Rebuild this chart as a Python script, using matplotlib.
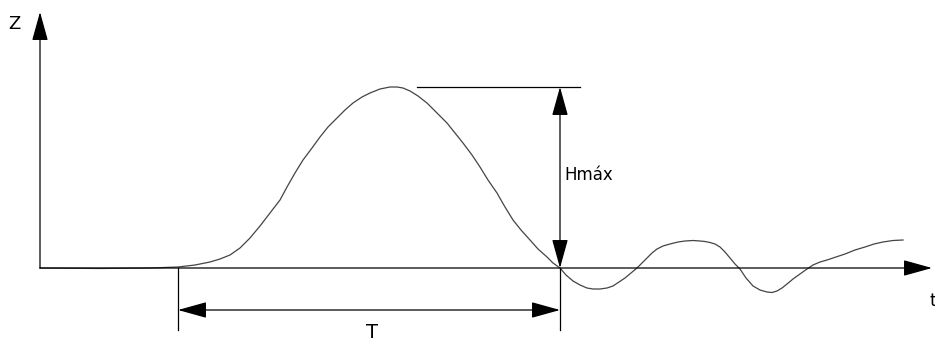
import matplotlib.pyplot as plt

# Wave profile (t along the axis, z above the still level)
t = [40, 100, 150, 178, 195, 210, 220, 230, 240, 250, 260, 270, 280, 287, 295,
     303, 312, 320, 328, 337, 345, 353, 362, 370, 380, 390, 397, 403, 410, 418,
     427, 437, 447, 455, 463, 472, 480, 488, 497, 505, 513, 521, 530, 538, 547,
     553, 560, 566, 573, 580, 587, 593, 600, 607, 613, 619, 625, 631, 637, 642,
     647, 652, 657, 663, 670, 678, 685, 693, 700, 705, 710, 715, 720, 725, 730,
     735, 740, 746, 753, 760, 767, 772, 777, 782, 787, 793, 800, 807, 813, 820,
     827, 836, 845, 855, 865, 874, 883, 893, 903]
z = [0, -0.5, 0, 1, 3, 6, 9, 13, 20, 30, 42, 55, 68, 81, 95,
     108, 120, 131, 141, 150, 158, 165, 171, 175, 179, 181, 181, 180, 177, 172,
     165, 155, 145, 135, 125, 113, 101, 88, 75, 61, 48, 38, 28, 19, 11,
     5, 0, -7, -13, -17, -20, -21, -21, -20, -18, -14, -10, -5, 0, 5,
     10, 15, 19, 22, 24, 26, 27, 27.5, 27, 26.5, 25.5, 24, 21, 16, 10,
     4, -1, -10, -18, -22, -24, -24.5, -23, -20, -16, -11, -6, -1, 3, 6,
     8, 11, 14, 18, 21, 24, 26, 27.5, 28]

t_start = 178      # start of period T
t_end = 560        # end of period T / zero crossing
peak = max(z)
peak_t = t[z.index(peak)]

fig = plt.figure(figsize=(9.35, 3.43), dpi=100)
ax = fig.add_axes([0, 0, 1, 1])
ax.set_xlim(0, 935)
ax.set_ylim(-75, 268)
ax.axis('off')

arrow = dict(arrowstyle='-|>,head_length=1.8,head_width=0.5', mutation_scale=10,
             color='black', lw=0.9, shrinkA=0, shrinkB=0)
darrow = dict(arrowstyle='<|-|>,head_length=1.8,head_width=0.5', mutation_scale=10,
              color='black', lw=0.9, shrinkA=0, shrinkB=0)

# axes
ax.annotate('', xy=(40, 256), xytext=(40, 0), arrowprops=arrow)
ax.annotate('', xy=(932, 0), xytext=(40, 0), arrowprops=arrow)
ax.text(14, 244, 'Z', fontsize=13, ha='center', va='center', family='DejaVu Sans')
ax.text(933, -33, 't', fontsize=13, ha='center', va='center', family='DejaVu Sans')

# wave
ax.plot(t, z, color='#444444', lw=0.9)

# Hmax dimension
ax.plot([417, 580], [peak, peak], color='black', lw=0.9)
ax.annotate('', xy=(t_end, peak), xytext=(t_end, 0), arrowprops=darrow)
ax.text(t_end + 4, 93, 'Hmáx', fontsize=12, ha='left', va='center',
        family='DejaVu Sans')

# T dimension
ax.plot([t_start, t_start], [0, -62], color='black', lw=0.9)
ax.plot([t_end, t_end], [0, -62], color='black', lw=0.9)
ax.annotate('', xy=(t_start, -42), xytext=(t_end, -42), arrowprops=darrow)
ax.text((t_start + t_end) / 2 + 3, -64, 'T', fontsize=14, ha='center', va='center',
        family='DejaVu Sans')

fig.savefig('out.png', dpi=100)
